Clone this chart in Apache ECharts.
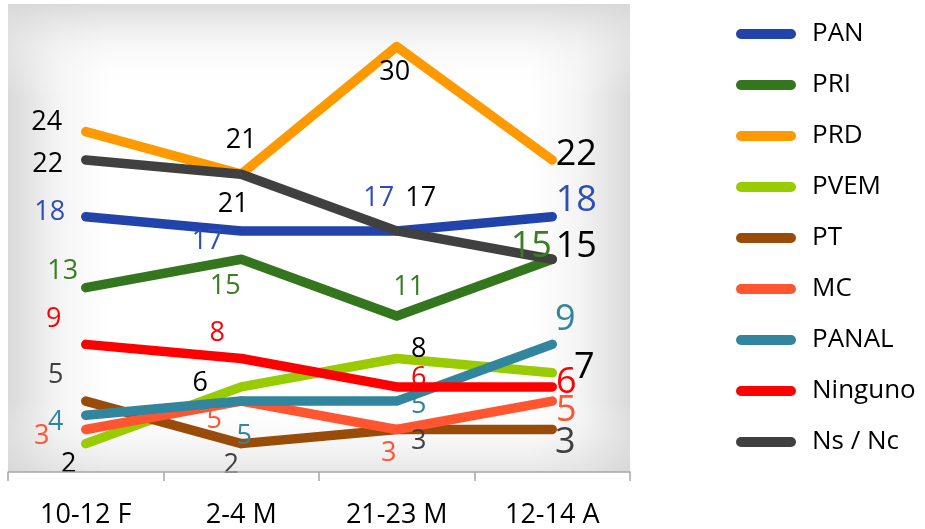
<!DOCTYPE html>
<html>
<head>
<meta charset="utf-8">
<script src="https://cdn.jsdelivr.net/npm/echarts@6/dist/echarts.min.js"></script>
<style>
html,body{margin:0;padding:0;background:#fff;}
#chart{width:925px;height:529px;}
</style>
</head>
<body>
<div id="chart"></div>
<script>
const categories = ['10-12 F', '2-4 M', '21-23 M', '12-14 A'];
const seriesNames = ['PAN', 'PRI', 'PRD', 'PVEM', 'PT', 'MC', 'PANAL', 'Ninguno', 'Ns / Nc'];
const PAN = [18, 17, 17, 18];
const PRI = [13, 15, 11, 15];
const PRD = [24, 21, 30, 22];
const PVEM = [2, 6, 8, 7];
const PT = [5, 2, 3, 3];
const MC = [3, 5, 3, 5];
const PANAL = [4, 5, 5, 9];
const Ninguno = [9, 8, 6, 6];
const NsNc = [22, 21, 17, 15];
const seriesValues = [PAN, PRI, PRD, PVEM, PT, MC, PANAL, Ninguno, NsNc];

// styles
const lineColors = ['#2244AA', '#33761D', '#FF9900', '#99CC00', '#994C0A', '#FF5530', '#31859C', '#FF0000', '#404040'];
const labelColors = ['#2E4DB8', '#3A7D22', '#000000', '#000000', '#404040', '#FF5530', '#31859C', '#FF0000', '#000000'];
const labelOffsets = [
  [[-36, -4], [-34, 10], [-18, -33], [24, -16]],
  [[-23, -16], [-16, 27], [12, -29], [-21, -13]],
  [[-39, -9], [0, -34], [-2, 26], [24, -5]],
  [[-17, 21], [-41, -4], [22, -9], [32, -5]],
  [[-30, -26], [-10, 22], [22, 12], [13, 13]],
  [[-44, 7], [-27, 19], [-8, 24], [14, 10]],
  [[-30, 7], [3, 35], [22, 4], [13, -25]],
  [[-32, -25], [-24, -25], [22, -9], [14, -4]],
  [[-38, 4], [-8, 30], [24, -33], [24, -13]]
];
const FONT = '"Open Sans", "Noto Sans", sans-serif';

const chart = echarts.init(document.getElementById('chart'), null, {renderer: 'canvas'});

const series = seriesNames.map((name, si) => ({
  name: name,
  type: 'line',
  xAxisIndex: 0,
  yAxisIndex: 0,
  symbol: 'circle',
  symbolSize: 1,
  showSymbol: true,
  silent: true,
  lineStyle: {color: lineColors[si], width: 9.5, cap: 'round', join: 'round'},
  itemStyle: {color: lineColors[si]},
  emphasis: {disabled: true},
  data: seriesValues[si].map((v, i) => ({
    value: v,
    label: {
      show: true,
      position: 'inside',
      offset: labelOffsets[si][i],
      color: labelColors[si],
      fontFamily: FONT,
      fontSize: i === 3 ? 36 : 27
    }
  }))
}));

const option = {
  animation: false,
  backgroundColor: '#ffffff',
  grid: [
    {
      left: 8, right: 295, top: 4, bottom: 57, show: true, borderWidth: 0,
      containLabel: false, outerBoundsMode: 'none',
      backgroundColor: new echarts.graphic.LinearGradient(0, 0, 1, 0, [
        {offset: 0, color: '#D9D9D9'},
        {offset: 0.08, color: '#F4F4F4'},
        {offset: 0.16, color: '#FFFFFF'},
        {offset: 0.84, color: '#FFFFFF'},
        {offset: 0.92, color: '#F4F4F4'},
        {offset: 1, color: '#D9D9D9'}
      ])
    },
    {
      left: 8, right: 295, top: 4, bottom: 57, show: true, borderWidth: 0, z: 0,
      containLabel: false, outerBoundsMode: 'none',
      backgroundColor: new echarts.graphic.LinearGradient(0, 0, 0, 1, [
        {offset: 0, color: 'rgba(215,215,215,0.9)'},
        {offset: 0.1, color: 'rgba(240,240,240,0.4)'},
        {offset: 0.2, color: 'rgba(255,255,255,0)'},
        {offset: 0.85, color: 'rgba(255,255,255,0)'},
        {offset: 0.95, color: 'rgba(225,225,225,0.4)'},
        {offset: 1, color: 'rgba(215,215,215,0.6)'}
      ])
    }
  ],
  legend: {
    orient: 'vertical',
    left: 736,
    top: 19,
    padding: 0,
    itemWidth: 60,
    itemHeight: 10,
    itemGap: 21,
    icon: 'path://M5,0 L55,0 A5,5 0 0 1 55,10 L5,10 A5,5 0 0 1 5,0 Z',
    selectedMode: false,
    textStyle: {fontFamily: FONT, fontSize: 26, color: '#000', lineHeight: 30, padding: [0, 0, 0, 11]},
    data: seriesNames
  },
  xAxis: [
    {
      type: 'category',
      gridIndex: 0,
      data: categories,
      boundaryGap: true,
      axisLine: {show: true, lineStyle: {color: '#A6A6A6', width: 1.5}},
      axisTick: {show: true, length: 9, lineStyle: {color: '#A6A6A6', width: 1.5}},
      axisLabel: {fontFamily: FONT, fontSize: 27, color: '#000', margin: 30},
      z: 5
    },
    {type: 'category', gridIndex: 1, data: categories, show: false}
  ],
  yAxis: [
    {
      type: 'value', gridIndex: 0, min: 0, max: 33, show: false,
      splitLine: {show: false}
    },
    {type: 'value', gridIndex: 1, min: 0, max: 33, show: false, splitLine: {show: false}}
  ],
  series: series
};
chart.setOption(option);
</script>
</body>
</html>
